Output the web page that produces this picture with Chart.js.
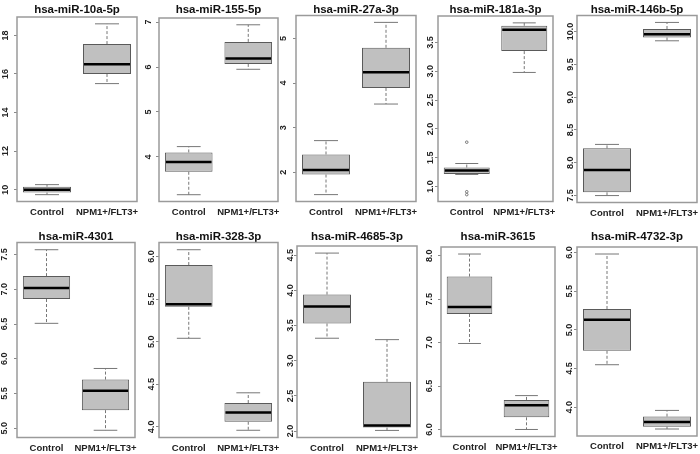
<!DOCTYPE html>
<html lang="en">
<head>
<meta charset="UTF-8" />
<title>miRNA expression boxplots</title>
<script src="https://cdn.jsdelivr.net/npm/chart.js"></script>
<style>
  body { margin: 0; background: #fff; }
  #board { position: relative; width: 700px; height: 454px; overflow: hidden; }
  #board canvas { position: absolute; }
</style>
</head>
<body>
<div id="board"></div>
<script>
// values
const titles = [
  "hsa-miR-10a-5p", "hsa-miR-155-5p", "hsa-miR-27a-3p", "hsa-miR-181a-3p", "hsa-miR-146b-5p",
  "hsa-miR-4301", "hsa-miR-328-3p", "hsa-miR-4685-3p", "hsa-miR-3615", "hsa-miR-4732-3p"
];
const groups = ["Control", "NPM1+/FLT3+"];

// [min, q1, median, q3, max]
const controlStats = [
  [9.74, 9.85, 10.0, 10.15, 10.26],
  [3.16, 3.67, 3.89, 4.10, 4.23],
  [1.50, 1.95, 2.05, 2.40, 2.71],
  [1.21, 1.22, 1.28, 1.33, 1.40],
  [7.50, 7.55, 7.89, 8.22, 8.28],
  [6.51, 6.86, 7.02, 7.19, 7.57],
  [5.04, 5.41, 5.44, 5.90, 6.08],
  [3.32, 3.53, 3.77, 3.94, 4.53],
  [6.99, 7.33, 7.41, 7.76, 8.02],
  [4.55, 4.73, 5.13, 5.27, 5.98]
];
const npmStats = [
  [15.5, 16.0, 16.5, 17.55, 18.6],
  [5.95, 6.07, 6.19, 6.56, 6.94],
  [3.53, 3.89, 4.24, 4.79, 5.36],
  [2.98, 3.35, 3.72, 3.79, 3.84],
  [9.86, 9.91, 9.96, 10.04, 10.14],
  [4.97, 5.26, 5.54, 5.70, 5.86],
  [3.96, 4.06, 4.17, 4.28, 4.40],
  [2.01, 2.05, 2.08, 2.70, 3.30],
  [6.00, 6.14, 6.28, 6.34, 6.39],
  [3.72, 3.75, 3.81, 3.88, 3.96]
];
// [group index, value]
const outliers = [
  [], [], [], [[0, 1.77], [0, 0.91], [0, 0.86]], [],
  [], [], [], [], []
];
const yTicks = [
  [10, 12, 14, 16, 18],
  [4, 5, 6, 7],
  [2, 3, 4, 5],
  [1.0, 1.5, 2.0, 2.5, 3.0, 3.5],
  [7.5, 8.0, 8.5, 9.0, 9.5, 10.0],
  [5.0, 5.5, 6.0, 6.5, 7.0, 7.5],
  [4.0, 4.5, 5.0, 5.5, 6.0],
  [2.0, 2.5, 3.0, 3.5, 4.0, 4.5],
  [6.0, 6.5, 7.0, 7.5, 8.0],
  [4.0, 4.5, 5.0, 5.5, 6.0]
];

// plot frames on the page [left, top, right, bottom] and y label distance from frame
const frames = [
  [17, 17, 137, 201.5], [159, 18, 278, 201.5], [296, 15, 416, 201.5], [438, 16, 555, 201.5], [577, 15, 697, 202.5],
  [17, 242, 135, 437.5], [159, 242, 278, 437.5], [297, 246, 417, 437.5], [441, 247, 555, 436.5], [577, 247, 697, 436]
];
const labelGap = [11, 10, 12.5, 7, 6.5, 12, 7.5, 6, 11.5, 7.5];

const FONT = '"Liberation Sans", Arial, sans-serif';
const ROW_H = 227;
const meas = document.createElement("canvas").getContext("2d");

// whiskers, caps and medians on top of the floating bars
const boxPlot = {
  id: "boxPlot",
  afterDatasetsDraw(chart) {
    const { ctx, scales: { y } } = chart;
    const stats = chart.data.datasets[0].stats;
    chart.getDatasetMeta(0).data.forEach((bar, i) => {
      const [lo, q1, med, q3, hi] = stats[i];
      const cx = bar.x, w = bar.width;
      const py = v => y.getPixelForValue(v);
      ctx.save();
      ctx.strokeStyle = "#777";
      ctx.lineWidth = 1;
      ctx.setLineDash([3, 2]);
      ctx.beginPath();
      ctx.moveTo(cx, py(q3)); ctx.lineTo(cx, py(hi));
      ctx.moveTo(cx, py(q1)); ctx.lineTo(cx, py(lo));
      ctx.stroke();
      ctx.setLineDash([]);
      ctx.beginPath();
      ctx.moveTo(cx - w / 4, py(hi)); ctx.lineTo(cx + w / 4, py(hi));
      ctx.moveTo(cx - w / 4, py(lo)); ctx.lineTo(cx + w / 4, py(lo));
      ctx.stroke();
      ctx.strokeStyle = "#000";
      ctx.lineWidth = 2.5;
      ctx.beginPath();
      ctx.moveTo(cx - w / 2 + 1, py(med)); ctx.lineTo(cx + w / 2 - 1, py(med));
      ctx.stroke();
      ctx.restore();
    });
  }
};

const frame = {
  id: "frame",
  afterDraw(chart) {
    const { ctx, chartArea: a } = chart;
    ctx.save();
    ctx.strokeStyle = "#9a9a9a";
    ctx.lineWidth = 1.5;
    ctx.strokeRect(a.left, a.top, a.right - a.left, a.bottom - a.top);
    ctx.restore();
  }
};

const board = document.getElementById("board");

titles.forEach((title, i) => {
  const [left, top, right, bottom] = frames[i];
  const rowTop = top < ROW_H ? 0 : ROW_H;
  const L = 18, R = 3;
  const canvas = document.createElement("canvas");
  canvas.width = Math.round(right - left + L + R);
  canvas.height = ROW_H;
  canvas.style.left = (left - L) + "px";
  canvas.style.top = rowTop + "px";
  board.appendChild(canvas);

  const stats = [controlStats[i], npmStats[i]];
  const all = stats.flat().concat(outliers[i].map(o => o[1]));
  const lo = Math.min(...all), hi = Math.max(...all);
  const pad = (hi - lo) * 0.04;
  const digits = yTicks[i].every(Number.isInteger) ? 0 : 1;
  meas.font = "bold 9px " + FONT;
  const widest = Math.max(...yTicks[i].map(v => meas.measureText(v.toFixed(digits)).width));
  const tickLen = 3;

  new Chart(canvas, {
    type: "bar",
    data: {
      labels: groups,
      datasets: [
        {
          data: stats.map(s => [s[1], s[3]]),
          stats: stats,
          backgroundColor: "#c0c0c0",
          borderColor: "#5a5a5a",
          borderWidth: 1,
          borderSkipped: false,
          barPercentage: 0.8,
          categoryPercentage: 1
        },
        {
          type: "scatter",
          data: outliers[i].map(o => ({ x: groups[o[0]], y: o[1] })),
          pointRadius: 1.3,
          pointBorderWidth: 1,
          borderColor: "#777",
          backgroundColor: "rgba(0,0,0,0)"
        }
      ]
    },
    options: {
      responsive: false,
      animation: false,
      devicePixelRatio: 1,
      layout: { padding: { left: 0, right: R, top: 0, bottom: 0 } },
      plugins: {
        legend: { display: false },
        tooltip: { enabled: false },
        title: {
          display: true,
          text: title,
          fullSize: false,
          color: "#111",
          font: { family: FONT, size: 11.5, weight: "bold", lineHeight: 1 },
          padding: { top: 4, bottom: Math.max(0, top - rowTop - 15.5) }
        }
      },
      scales: {
        x: {
          type: "category",
          offset: true,
          grid: { display: false, drawTicks: false },
          border: { display: false },
          ticks: {
            autoSkip: false,
            maxRotation: 0,
            padding: 5,
            color: "#222",
            font: { family: FONT, size: 9.5, weight: "bold" }
          },
          afterFit: s => {
            s.height = ROW_H - (bottom - rowTop);
            s.paddingLeft = 0;
            s.paddingRight = 0;
          }
        },
        y: {
          min: lo - pad,
          max: hi + pad,
          grid: { drawOnChartArea: false, drawTicks: true, tickLength: tickLen, color: "#888" },
          border: { display: false },
          afterBuildTicks: s => { s.ticks = yTicks[i].map(v => ({ value: v })); },
          ticks: {
            minRotation: 90,
            maxRotation: 90,
            crossAlign: "center",
            padding: labelGap[i] - tickLen - widest / 2,
            color: "#222",
            font: { family: FONT, size: 9, weight: "bold" },
            callback: v => Number(v).toFixed(digits)
          },
          afterFit: s => {
            s.width = L;
            s.paddingTop = 0;
            s.paddingBottom = 0;
          }
        }
      }
    },
    plugins: [boxPlot, frame]
  });
});
</script>
</body>
</html>
